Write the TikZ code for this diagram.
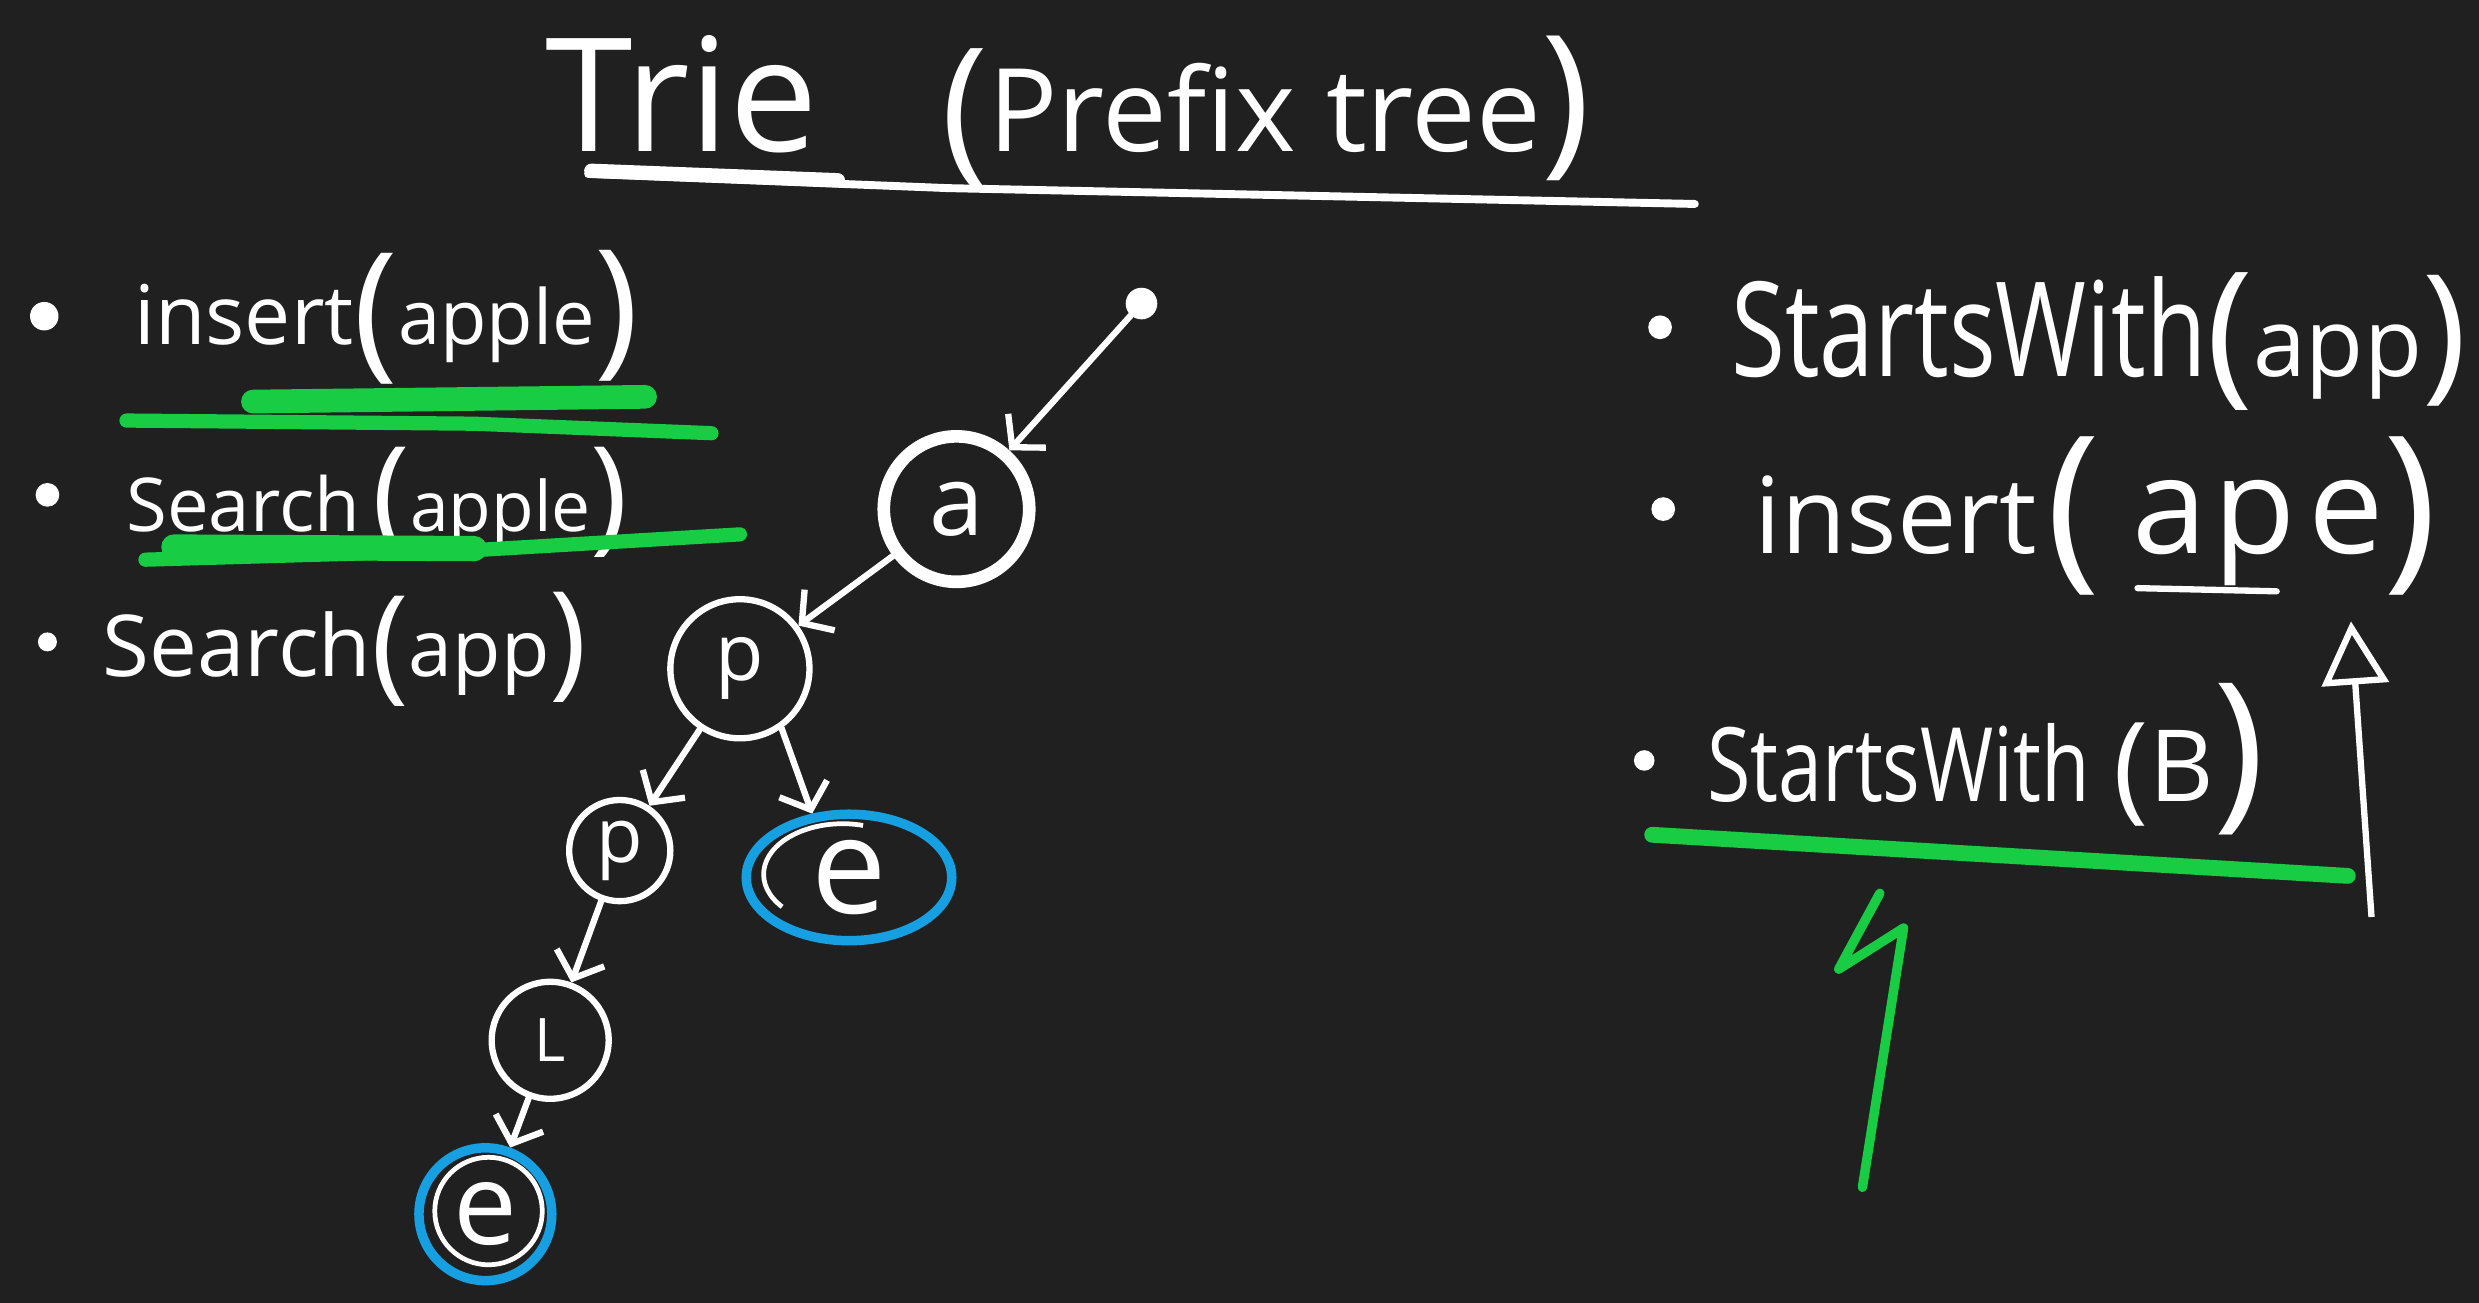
\documentclass[tikz,border=0pt]{standalone}
\usepackage{graphicx}
\usepackage{fontspec}
\setmainfont{Open Sans}
\usetikzlibrary{arrows.meta,shapes.geometric}
\definecolor{bg}{RGB}{32,32,32}
\definecolor{hl}{RGB}{24,204,68}
\definecolor{bl}{RGB}{22,160,226}
\newcommand{\fs}[1]{\fontsize{#1}{#1}\selectfont}
\newcommand{\bigpar}[3]{\raisebox{#2}{\fs{#1}#3}}
\begin{document}
\begin{tikzpicture}[x=1pt,y=-1pt,
  lbl/.style={text=white, anchor=base west, inner sep=0pt, outer sep=0pt},
  nd/.style={draw=white, line width=4pt, circle, inner sep=0pt, text=white},
  arr/.style={draw=white, line width=4pt, line cap=round, -{Straight Barb[length=14pt,width=32pt,line width=4pt]}},
  hlstroke/.style={draw=hl, line cap=round, line join=round},
  bullet/.style={circle, fill=white, inner sep=0pt, minimum size=#1}]
\fill[bg] (0,0) rectangle (1568,824);
\useasboundingbox (0,0) rectangle (1568,824);

% title
\node[lbl] (title) at (345,96) {\fs{100}Trie\hspace{78pt}\bigpar{100}{-6pt}{(}\fs{73}Prefix tree\bigpar{105}{-2pt}{)}};
\draw[white, line width=5pt, line cap=round] (372,110) -- (600,119) -- (1072,129);
\draw[white, line width=9pt, line cap=round] (374,108) -- (530,114);

% left list
\node[bullet=18pt] (b1) at (28,200) {};
\node[bullet=15pt] (b2) at (30,313) {};
\node[bullet=12pt] (b3) at (30,406) {};
\node[lbl] (t1) at (85,218) {\fs{52}insert\bigpar{95}{-10pt}{(}\fs{48}apple\bigpar{95}{-8pt}{)}};
\node[lbl] (t2) at (80,336) {\fs{47}Search\hspace{8pt}\bigpar{80}{-4pt}{(}\fs{44}apple\bigpar{80}{-4pt}{)}};
\node[lbl] (t3) at (65,428) {\fs{54}Search\bigpar{80}{-6pt}{(}\fs{50}app\bigpar{80}{-4pt}{)}};
\draw[hlstroke, line width=15pt] (160,254) -- (408,251);
\draw[hlstroke, line width=9pt] (80,266) -- (300,268) -- (450,274);
\draw[hlstroke, line width=16pt] (110,346) -- (300,347);
\draw[hlstroke, line width=9pt] (92,354) -- (300,348) -- (468,338);

% tree
\node[circle, fill=white, inner sep=0pt, minimum size=20pt] (root) at (722,192) {};
\node[nd, line width=8pt, minimum size=92pt, font={\fs{62}}] (a) at (605,322) {a};
\node[nd, minimum size=88pt, font={\fs{50}}] (p1) at (468,423) {p};
\node[nd, minimum size=64pt, font={\fs{48}}] (p2) at (392,538) {p};
\node[nd, minimum size=74pt, font={\fs{38}}] (l) at (348,658) {L};
\draw[white, line width=3pt] (533,553) ++(140:50 and 32) arc[start angle=140, end angle=285, x radius=50, y radius=32];
\node[ellipse, draw=bl, line width=6pt, minimum width=130pt, minimum height=80pt, inner sep=0pt, text=white, font={\fs{85}}] (e1) at (537,555) {e};
\draw[white, line width=3pt] (309,766) circle[radius=34];
\node[circle, draw=bl, line width=6pt, minimum size=84pt, inner sep=0pt, text=white, font={\fs{72}}] (e2) at (307,768) {e};
\draw[arr] (root) -- (a);
\draw[arr] (a) -- (p1);
\draw[arr] (p1) -- (p2);
\draw[arr] (p1.-55) -- (e1.120);
\draw[arr] (p2) -- (l);
\draw[arr] (l) -- (e2);

% right list
\node[bullet=15pt] (b4) at (1050,207) {};
\node[bullet=15pt] (b5) at (1052,322) {};
\node[bullet=13pt] (b6) at (1040,481) {};
\node[lbl] (t4) at (1095,238) {\scalebox{0.97}[1.3]{\fs{64}StartsWith}\bigpar{100}{-6pt}{(}\fs{60}app\bigpar{95}{-4pt}{)}};
\node[lbl] (t5) at (1110,350) {\fs{67}insert\hspace{6pt}\bigpar{115}{-8pt}{(}\hspace{20pt}\fs{85}a\hspace{4pt}p\hspace{8pt}e\bigpar{115}{-8pt}{)}};
\node[lbl] (t6) at (1080,507) {\scalebox{1}[1.3]{\fs{50}StartsWith}\hspace{15pt}\bigpar{75}{-4pt}{(}\fs{63}B\bigpar{110}{-4pt}{)}};
\draw[white, line width=4pt, line cap=round] (1352,372) -- (1440,374);
\draw[hlstroke, line width=10pt] (1045,528) -- (1485,554);
\coordinate (vs) at (1500,580);
\coordinate (ve) at (1487,393);
\draw[white, line width=4pt, -{Triangle[open,length=40pt,width=42pt,line width=4pt]}] (vs) -- (ve);
\draw[hl, line width=6pt, line cap=round, line join=round] (1189,565) -- (1163,613) -- (1204,587) -- (1178,751);
\end{tikzpicture}
\end{document}
